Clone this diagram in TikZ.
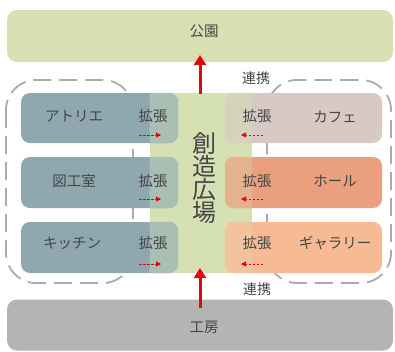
\documentclass[tikz,border=0pt]{standalone}
\usepackage{fontspec}
\newfontfamily\jp{Noto Sans CJK JP}
\usetikzlibrary{arrows.meta}
\definecolor{parkc}{HTML}{D6E0B2}
\definecolor{stripc}{HTML}{D5E0B3}
\definecolor{bluec}{HTML}{8FA8B0}
\definecolor{blueov}{HTML}{A9BFB4}
\definecolor{cafec}{HTML}{D9C9C5}
\definecolor{cafeov}{HTML}{D6D3BC}
\definecolor{hallc}{HTML}{EAA07F}
\definecolor{hallov}{HTML}{E4B28E}
\definecolor{galc}{HTML}{F6BA95}
\definecolor{galov}{HTML}{F1C49F}
\definecolor{grayc}{HTML}{B4B4B4}
\definecolor{dashc}{HTML}{ABABAB}
\definecolor{redc}{HTML}{E60012}
\definecolor{txtc}{HTML}{454545}
\tikzset{
  roombox/.style={rounded corners=9pt, minimum width=157pt, minimum height=50pt, inner sep=0pt, draw=none},
  bigbox/.style={rounded corners=10pt, minimum width=386pt, inner sep=0pt, draw=none},
  lbl/.style={font=\jp\fontsize{14.5}{16}\selectfont, text=txtc, inner sep=0pt},
  smlbl/.style={font=\jp\fontsize{14}{16}\selectfont, text=txtc, inner sep=0pt},
  grp/.style={draw=dashc, line width=1.8pt, dash pattern=on 18pt off 8pt, rounded corners=30pt},
  bigarrow/.style={draw=redc, line width=3pt, -{Triangle[width=12pt,length=10pt]}},
  smarrow/.style={draw=redc, line width=0.8pt, dash pattern=on 2.5pt off 1.5pt, -{Triangle[width=5pt,length=5pt]}}
}
\begin{document}
\begin{tikzpicture}[x=1pt,y=-1pt]
\useasboundingbox (0,0) rectangle (395,351);
% dashed groups
\draw[grp] (6,80) rectangle (133,283);
\draw[grp] (267,80) rectangle (391,283);
% top and bottom boxes
\node[bigbox, fill=parkc, minimum height=52pt] (park) at (200,36) {};
\node[lbl] (parkt) at (204,31) {公園};
\node[bigbox, fill=grayc, minimum height=51pt] (kobo) at (200,325) {};
\node[lbl] (kobot) at (204,327) {工房};
% central strip
\node[fill=stripc, minimum width=102pt, minimum height=180pt, inner sep=0pt] (strip) at (201,183) {};
% room boxes
\node[roombox, fill=bluec] (l1) at (99.5,118) {};
\node[roombox, fill=bluec, minimum height=51pt] (l2) at (99.5,182.5) {};
\node[roombox, fill=bluec, minimum height=51pt] (l3) at (99.5,247.5) {};
\node[roombox, fill=cafec] (r1) at (303.5,118) {};
\node[roombox, fill=hallc, minimum height=51pt] (r2) at (303.5,182.5) {};
\node[roombox, fill=galc, minimum height=51pt] (r3) at (303.5,247.5) {};
% overlaps
\begin{scope}
\clip (strip.north west) rectangle (strip.south east);
\fill[blueov, rounded corners=9pt] (l1.north west) rectangle (l1.south east);
\fill[blueov, rounded corners=9pt] (l2.north west) rectangle (l2.south east);
\fill[blueov, rounded corners=9pt] (l3.north west) rectangle (l3.south east);
\fill[cafeov, rounded corners=9pt] (r1.north west) rectangle (r1.south east);
\fill[hallov, rounded corners=9pt] (r2.north west) rectangle (r2.south east);
\fill[galov, rounded corners=9pt] (r3.north west) rectangle (r3.south east);
\end{scope}
% room labels
\node[lbl] (t1) at (74,116) {アトリエ};
\node[lbl] (t2) at (74,181) {図工室};
\node[lbl] (t3) at (72,243) {キッチン};
\node[lbl] (t4) at (335,117) {カフェ};
\node[lbl] (t5) at (335,181) {ホール};
\node[lbl] (t6) at (335,243) {ギャラリー};
% expand labels
\node[lbl] (e1) at (153,116) {拡張};
\node[lbl] (e2) at (153,181) {拡張};
\node[lbl] (e3) at (153,243) {拡張};
\node[lbl] (e4) at (257,116) {拡張};
\node[lbl] (e5) at (257,181) {拡張};
\node[lbl] (e6) at (257,243) {拡張};
% small dashed arrows
\coordinate (a1s) at (139,135); \coordinate (a1e) at (161,135);
\coordinate (a2s) at (139,199); \coordinate (a2e) at (161,199);
\coordinate (a3s) at (139,264); \coordinate (a3e) at (161,264);
\coordinate (b1s) at (263,135); \coordinate (b1e) at (241,135);
\coordinate (b2s) at (263,199); \coordinate (b2e) at (241,199);
\coordinate (b3s) at (263,264); \coordinate (b3e) at (241,264);
\draw[smarrow] (a1s) -- (a1e);
\draw[smarrow] (a2s) -- (a2e);
\draw[smarrow] (a3s) -- (a3e);
\draw[smarrow] (b1s) -- (b1e);
\draw[smarrow] (b2s) -- (b2e);
\draw[smarrow] (b3s) -- (b3e);
% title
\node[font=\jp\fontsize{24}{23}\selectfont, text=txtc, align=center, inner sep=0pt] (title) at (204,178) {創\\造\\広\\場};
% link labels
\node[smlbl] (link1) at (256,78) {連携};
\node[smlbl] (link2) at (257,289) {連携};
% big arrows
\coordinate (up1s) at (200,94); \coordinate (up1e) at (200,55);
\coordinate (up2s) at (200,308); \coordinate (up2e) at (200,268);
\draw[bigarrow] (up1s) -- (up1e);
\draw[bigarrow] (up2s) -- (up2e);
\end{tikzpicture}
\end{document}
